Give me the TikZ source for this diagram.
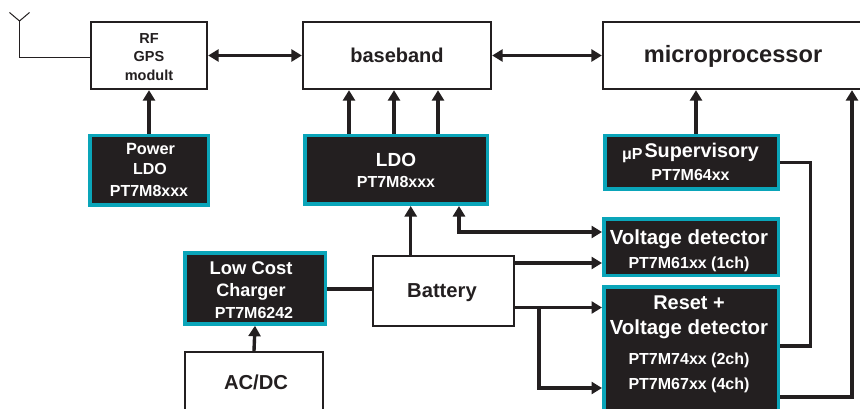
\documentclass[tikz,border=0pt]{standalone}
\usepackage{fontspec}
\setmainfont{Liberation Sans}
\usetikzlibrary{arrows.meta}
\definecolor{ink}{HTML}{231F20}
\definecolor{rim}{HTML}{0AA5B9}
\newcommand{\fz}[1]{\fontsize{#1}{20}\selectfont}
\newcommand{\up}[1]{\rule{0pt}{#1pt}}
\newcommand{\dn}[1]{\rule[-#1pt]{0pt}{#1pt}}
\newcommand{\nudge}[1]{\kern#1pt\relax}
\tikzset{
  whitebox/.style={draw=ink,fill=white,line width=2.3pt,inner sep=0pt,align=center,text=ink,
    font=\bfseries\fontsize{16}{20}\selectfont},
  darkbox/.style={draw=rim,fill=ink,line width=3.5pt,inner sep=0pt,align=center,text=white,
    font=\bfseries\fontsize{16}{20}\selectfont},
  conn/.style={draw=ink,line width=3.4pt},
  arr/.style={conn,-{Triangle[width=12pt,length=10.5pt]}},
  biarr/.style={conn,{Triangle[width=12pt,length=10.5pt]}-{Triangle[width=12pt,length=10.5pt]}},
  thin wire/.style={draw=ink,line width=1pt}
}
\begin{document}
\begin{tikzpicture}[x=1pt,y=-1pt]
\path[use as bounding box,clip] (0,0) rectangle (860,409);
\fill[white] (0,0) rectangle (860,409);
% white boxes
\node[whitebox,minimum width=116pt,minimum height=67pt] (rf) at (149,55.5)
  {\fz{14.5}\up{19}RF\\[-2pt]\fz{14.5}GPS\\[-1pt]\fz{14.5}modult\dn{5}};
\node[whitebox,minimum width=188pt,minimum height=67pt] (base) at (397,55.5)
  {\fz{20}\up{20}baseband\dn{5}};
\node[whitebox,minimum width=260pt,minimum height=67pt] (micro) at (733,55.5)
  {\fz{23.6}\up{20}microprocessor\dn{5}};
\node[whitebox,minimum width=141pt,minimum height=70pt] (batt) at (443.5,291)
  {\fz{20.2}\up{17}Battery\nudge{3}\dn{5}};
\node[whitebox,minimum width=138pt,minimum height=87pt] (acdc) at (254,395.5)
  {\fz{20.2}\up{15}\nudge{4}AC/DC\dn{28}};
% dark boxes
\node[darkbox,minimum width=118.5pt,minimum height=69.5pt] (plo) at (149,170.5)
  {\fz{16.3}\up{15}\nudge{3}Power\\[0pt]\fz{16}\nudge{2}LDO\\[2.7pt]\fz{16}PT7M8xxx\dn{5.3}};
\node[darkbox,minimum width=182.5pt,minimum height=68.5pt] (ldo) at (396,170)
  {\fz{19}\up{20}LDO\\[1pt]\fz{16}PT7M8xxx\dn{5}};
\node[darkbox,minimum width=173.5pt,minimum height=53.5pt] (sup) at (691.5,162.5)
  {\up{18}\raisebox{-2.5pt}{\fz{16}μP}\hspace{2pt}\fz{19.8}Supervisory\nudge{2}\\[4pt]\fz{16}PT7M64xx\nudge{2}\dn{5}};
\node[darkbox,minimum width=140.5pt,minimum height=69.5pt] (chg) at (255,288.5)
  {\fz{18.4}\up{21}Low Cost\nudge{8}\\[2pt]\fz{18}Charger\nudge{8}\\[2pt]\fz{16}PT7M6242\nudge{2}\dn{6}};
\node[darkbox,minimum width=174.5pt,minimum height=56.5pt] (vd) at (691,247)
  {\fz{20.4}\up{23}Voltage detector\nudge{4}\\[4pt]\fz{16}PT7M61xx (1ch)\nudge{4}\dn{5}};
\node[darkbox,minimum width=174.5pt,minimum height=141.5pt] (rst) at (691,357.5)
  {\fz{19.9}\up{18}Reset +\nudge{4}\\[5pt]\fz{20.4}Voltage detector\nudge{4}\\[10pt]\fz{16}PT7M74xx (2ch)\nudge{4}\\[5pt]\fz{16}PT7M67xx (4ch)\nudge{4}\dn{35}};
% routing points
\coordinate (ant) at (19.5,58);
\coordinate (fork) at (19.5,21);
\coordinate (armL) at (9.5,12.5);
\coordinate (armR) at (29.5,12.5);
\coordinate (t1) at (349,0);
\coordinate (t2) at (394,0);
\coordinate (t3) at (438,0);
\coordinate (t4) at (696,0);
\coordinate (b1) at (410.7,0);
\coordinate (b2) at (459,232);
\coordinate (b3) at (0,263);
\coordinate (b4) at (0,307.5);
\coordinate (b5) at (539,388);
\coordinate (s1) at (810.5,346);
\coordinate (s2) at (852,397);
\coordinate (ch) at (0,289);
% antenna
\draw[thin wire] (rf.west |- ant) -- (ant) -- (fork);
\draw[thin wire] (armL) -- (fork) -- (armR);
% connectors
\draw[biarr] (rf.east) -- (base.west);
\draw[biarr] (base.east) -- (micro.west);
\draw[arr] (plo.north) -- (rf.south);
\draw[arr] (ldo.north -| t1) -- (base.south -| t1);
\draw[arr] (ldo.north -| t2) -- (base.south -| t2);
\draw[arr] (ldo.north -| t3) -- (base.south -| t3);
\draw[arr] (sup.north -| t4) -- (micro.south -| t4);
\draw[arr] (batt.north -| b1) -- (ldo.south -| b1);
\draw[biarr] (ldo.south -| b2) -- (b2) -- (b2 -| vd.west);
\draw[arr] (batt.east |- b3) -- (vd.west |- b3);
\draw[arr] (batt.east |- b4) -- (rst.west |- b4);
\draw[arr] (b5 |- b4) -- (b5) -- (b5 -| rst.west);
\draw[conn] (chg.east |- ch) -- (batt.west |- ch);
\draw[arr] (acdc.north) -- (chg.south);
\draw[conn] (sup.east) -| (s1) -- (s1 -| rst.east);
\draw[arr] (s2 -| rst.east) -- (s2) -- (s2 |- micro.south);
\end{tikzpicture}
\end{document}
